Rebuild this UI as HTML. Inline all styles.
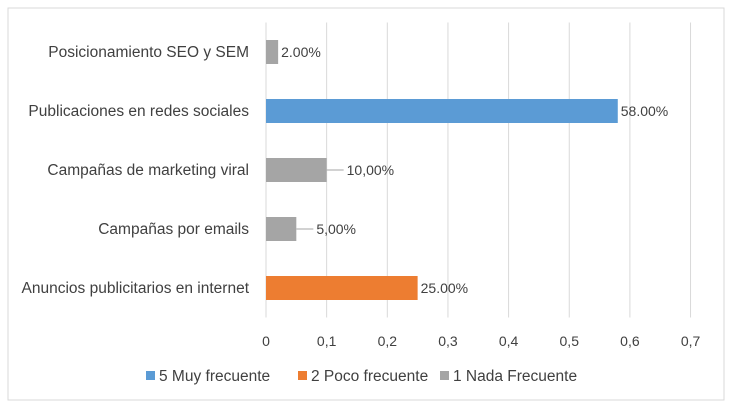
<!DOCTYPE html>
<html><head><meta charset="utf-8"><style>
body{margin:0;background:#fff;font-family:"Liberation Sans",sans-serif;}
svg{display:block}
text{font-family:"Liberation Sans",sans-serif;font-size:14px;fill:#404040}
.cat,.leg{font-size:15.5px}
</style></head><body>
<svg id="chart" width="732" height="407">
<rect x="8" y="8" width="716" height="392" fill="#fff" stroke="#d9d9d9"/>
<g id="grid"></g><g id="bars"></g><g id="labels"></g><g id="legend"></g>
</svg>
<script>
const categories=["Posicionamiento SEO y SEM","Publicaciones en redes sociales","Campañas de marketing viral","Campañas por emails","Anuncios publicitarios en internet"];
const values=[0.02,0.58,0.10,0.05,0.25];
const valueLabels=["2.00%","58.00%","10,00%","5,00%","25.00%"];
const seriesIdx=[2,0,2,2,1];
const ticks=[0,0.1,0.2,0.3,0.4,0.5,0.6,0.7];
const tickLabels=["0","0,1","0,2","0,3","0,4","0,5","0,6","0,7"];
const seriesNames=["5 Muy frecuente","2 Poco frecuente","1 Nada Frecuente"];
const colors=["#5b9bd5","#ed7d31","#a5a5a5"];
const ns="http://www.w3.org/2000/svg";
const x=v=>266+v*606.5;
const plotTop=22.5,plotBot=317.5,band=(plotBot-plotTop)/categories.length;
const yc=i=>plotTop+band*(i+0.5);
function mk(t,a,p){const e=document.createElementNS(ns,t);for(const k in a)e.setAttribute(k,a[k]);p.appendChild(e);return e;}
const G=document.getElementById('grid'),B=document.getElementById('bars'),L=document.getElementById('labels'),LG=document.getElementById('legend');
ticks.forEach((t,i)=>{
 const l=mk('line',{x1:x(t),x2:x(t),y1:plotTop,y2:plotBot,stroke:'#d9d9d9'},G);
 
 
 const tx=mk('text',{x:x(t),y:346,'text-anchor':'middle'},G);tx.textContent=tickLabels[i];
 
 
});
categories.forEach((c,i)=>{
 const y=yc(i);
 const r=mk('rect',{x:x(0),y:y-12,width:x(values[i])-x(0),height:24,fill:colors[seriesIdx[i]]},B);
 
 
 const ct=mk('text',{x:249,y:y+5,'text-anchor':'end','class':'cat'},L);ct.textContent=c;
 
 
 let lx=x(values[i])+3;
 if(values[i]<0.2&&i!==0){lx=x(values[i])+20;const ln=mk('line',{x1:x(values[i]),x2:lx-3,y1:y,y2:y,stroke:'#a6a6a6'},L);}
 const vt=mk('text',{x:lx,y:y+5},L);vt.textContent=valueLabels[i];
 
 
});
const lxs=[146,298,440];
seriesNames.forEach((n,i)=>{
 const g=mk('g',{},LG);
 
 
 mk('rect',{x:lxs[i],y:371,width:9,height:9,fill:colors[i]},g);
 const t=mk('text',{x:lxs[i]+13,y:381,'class':'leg'},g);t.textContent=n;
});
</script>
</body></html>
